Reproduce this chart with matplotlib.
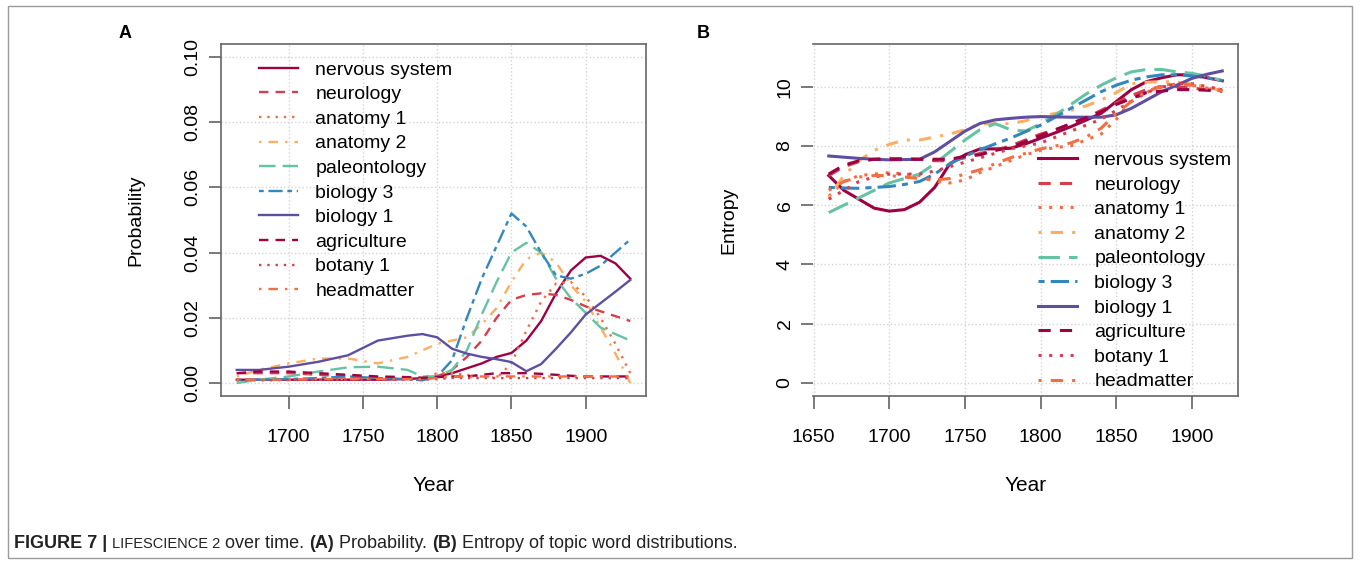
import matplotlib
matplotlib.use("Agg")
import matplotlib.pyplot as plt
from matplotlib.patches import Rectangle

plt.rcParams['font.family'] = ['Liberation Sans', 'DejaVu Sans']

labels = ['nervous system', 'neurology', 'anatomy 1', 'anatomy 2', 'paleontology',
          'biology 3', 'biology 1', 'agriculture', 'botany 1', 'headmatter']
colors = ['#9E0142', '#D53E4F', '#F46D43', '#FDAE61', '#66C2A5',
          '#3288BD', '#5E4FA2', '#9E0142', '#D53E4F', '#F46D43']
# R lty 1..6 then recycled
dashes = [None, (4, 3), (1, 2.5), (1, 3, 4, 3), (7, 3), (2, 2, 6, 2),
          None, (4, 3), (1, 2.5), (1, 3, 4, 3)]

# panel A: probability
years_a = [1665, 1680, 1700, 1720, 1740, 1760, 1780, 1790, 1800, 1810, 1820,
           1830, 1840, 1850, 1860, 1870, 1880, 1890, 1900, 1910, 1920, 1930]
nervous_a = [0.001, 0.001, 0.001, 0.001, 0.001, 0.001, 0.0012, 0.0015, 0.002, 0.003, 0.0045,
             0.006, 0.008, 0.0092, 0.013, 0.019, 0.0275, 0.0345, 0.0385, 0.039, 0.0367, 0.032]
neurology_a = [0.003, 0.003, 0.003, 0.0025, 0.002, 0.0017, 0.0015, 0.0015, 0.002, 0.004, 0.008,
               0.013, 0.02, 0.0255, 0.027, 0.0275, 0.027, 0.0255, 0.0235, 0.022, 0.0205, 0.019]
anatomy1_a = [0.001, 0.001, 0.001, 0.001, 0.0012, 0.0012, 0.0015, 0.0015, 0.003, 0.003, 0.0025,
              0.002, 0.0015, 0.006, 0.016, 0.025, 0.0305, 0.031, 0.0265, 0.020, 0.012, 0.003]
anatomy2_a = [0.002, 0.004, 0.006, 0.0075, 0.0075, 0.006, 0.008, 0.010, 0.012, 0.013, 0.014,
              0.018, 0.023, 0.031, 0.038, 0.040, 0.037, 0.030, 0.025, 0.017, 0.009, 0.0]
paleo_a = [0.0, 0.001, 0.002, 0.0035, 0.0048, 0.005, 0.004, 0.002, 0.002, 0.004, 0.010,
           0.021, 0.031, 0.040, 0.043, 0.040, 0.032, 0.026, 0.0215, 0.017, 0.015, 0.013]
biology3_a = [0.001, 0.001, 0.0012, 0.0015, 0.002, 0.0015, 0.0012, 0.0008, 0.002, 0.007, 0.020,
              0.032, 0.042, 0.052, 0.048, 0.040, 0.033, 0.032, 0.0335, 0.036, 0.040, 0.044]
biology1_a = [0.004, 0.004, 0.005, 0.0065, 0.0085, 0.013, 0.0145, 0.015, 0.014, 0.0105, 0.009,
              0.008, 0.0073, 0.0064, 0.0036, 0.0058, 0.0105, 0.0155, 0.021, 0.0245, 0.028, 0.0316]
agriculture_a = [0.003, 0.0035, 0.0035, 0.003, 0.0025, 0.002, 0.0018, 0.0016, 0.0018, 0.002, 0.002,
                 0.0025, 0.003, 0.003, 0.003, 0.0028, 0.0025, 0.0022, 0.002, 0.002, 0.002, 0.002]
botany1_a = [0.0008, 0.0008, 0.0009, 0.001, 0.001, 0.001, 0.001, 0.001, 0.0012, 0.0015, 0.0015,
             0.0015, 0.0015, 0.0015, 0.0015, 0.0015, 0.0015, 0.0015, 0.0015, 0.0015, 0.0015, 0.0015]
headmatter_a = [0.001, 0.001, 0.001, 0.0012, 0.0012, 0.0012, 0.0012, 0.0012, 0.0015, 0.002, 0.002,
                0.002, 0.002, 0.002, 0.002, 0.002, 0.002, 0.002, 0.002, 0.002, 0.002, 0.002]

# panel B: entropy
years_b = [1660, 1670, 1680, 1690, 1700, 1710, 1720, 1730, 1740, 1750, 1760, 1770, 1780, 1790,
           1800, 1810, 1820, 1830, 1840, 1850, 1860, 1870, 1880, 1890, 1900, 1910, 1920]
nervous_b = [7.0, 6.5, 6.2, 5.9, 5.8, 5.85, 6.1, 6.6, 7.4, 7.7, 7.9, 7.9, 7.92, 8.07,
             8.26, 8.45, 8.65, 8.87, 9.1, 9.5, 9.9, 10.17, 10.3, 10.4, 10.4, 10.3, 10.2]
neurology_b = [7.0, 7.3, 7.47, 7.55, 7.58, 7.57, 7.55, 7.5, 7.5, 7.6, 7.75, 7.85, 8.0, 8.2,
               8.4, 8.55, 8.75, 8.95, 9.2, 9.45, 9.7, 9.9, 10.0, 10.0, 9.95, 9.9, 9.9]
anatomy1_b = [6.3, 6.8, 7.0, 7.05, 7.1, 7.05, 7.0, 6.8, 6.75, 6.85, 7.1, 7.3, 7.5, 7.7,
              7.85, 7.95, 8.0, 8.2, 8.4, 8.9, 9.55, 9.8, 10.05, 10.1, 10.05, 9.95, 9.85]
anatomy2_b = [6.25, 7.0, 7.5, 7.85, 8.05, 8.2, 8.2, 8.3, 8.4, 8.55, 8.75, 8.75, 8.75, 8.85,
              9.0, 9.1, 9.2, 9.35, 9.55, 9.8, 10.1, 10.15, 10.17, 10.15, 10.1, 10.0, 9.85]
paleo_b = [5.75, 6.0, 6.25, 6.5, 6.75, 6.9, 7.05, 7.4, 7.8, 8.2, 8.55, 8.75, 8.55, 8.5,
           8.75, 9.05, 9.4, 9.75, 10.05, 10.3, 10.5, 10.58, 10.58, 10.5, 10.45, 10.35, 10.2]
biology3_b = [6.6, 6.58, 6.57, 6.6, 6.63, 6.7, 6.8, 7.05, 7.4, 7.65, 7.87, 8.07, 8.26, 8.48,
              8.7, 8.98, 9.27, 9.55, 9.83, 10.05, 10.22, 10.33, 10.4, 10.4, 10.36, 10.3, 10.2]
biology1_b = [7.66, 7.62, 7.58, 7.55, 7.53, 7.54, 7.55, 7.8, 8.15, 8.5, 8.76, 8.88, 8.93, 8.97,
              8.99, 8.98, 8.97, 8.97, 8.97, 9.05, 9.27, 9.55, 9.83, 10.05, 10.28, 10.42, 10.53]
agriculture_b = [7.05, 7.35, 7.5, 7.55, 7.55, 7.55, 7.55, 7.55, 7.55, 7.65, 7.7, 7.85, 7.95, 8.15,
                 8.35, 8.55, 8.75, 8.95, 9.15, 9.4, 9.6, 9.8, 9.85, 9.9, 9.9, 9.88, 9.85]
botany1_b = [6.2, 6.5, 6.8, 6.95, 7.05, 7.05, 7.05, 7.15, 7.3, 7.45, 7.6, 7.75, 7.9, 8.0,
             8.1, 8.3, 8.5, 8.7, 8.9, 9.2, 9.5, 9.8, 10.0, 10.1, 10.1, 10.0, 9.9]
headmatter_b = [6.5, 6.8, 6.95, 7.0, 7.0, 6.95, 6.9, 6.85, 6.9, 7.05, 7.2, 7.4, 7.6, 7.75,
                7.9, 8.0, 8.1, 8.3, 8.6, 9.1, 9.5, 9.85, 10.0, 10.1, 10.05, 9.95, 9.85]

series_a = [nervous_a, neurology_a, anatomy1_a, anatomy2_a, paleo_a,
            biology3_a, biology1_a, agriculture_a, botany1_a, headmatter_a]
series_b = [nervous_b, neurology_b, anatomy1_b, anatomy2_b, paleo_b,
            biology3_b, biology1_b, agriculture_b, botany1_b, headmatter_b]

W, H = 1360, 565
fig = plt.figure(figsize=(W / 100, H / 100), dpi=100)

# outer frame of the figure
fig.patches.append(Rectangle((8 / W, 1 - 558 / H), (1352 - 8) / W, (558 - 6) / H,
                             transform=fig.transFigure, fill=False,
                             edgecolor='#9a9a9a', lw=1.0))

axA = fig.add_axes([221 / W, 1 - 396 / H, 425 / W, 352 / H])
axB = fig.add_axes([813 / W, 1 - 396 / H, 425 / W, 352 / H])


def style_axes(ax, xt, yt, xlim, ylim, ytl):
    ax.set_xlim(*xlim)
    ax.set_ylim(*ylim)
    ax.set_xticks(xt)
    ax.set_yticks(yt)
    ax.set_yticklabels(ytl, rotation=90, va='center')
    ax.grid(True, color='#d3d3d3', linestyle=':', lw=1.0)
    ax.set_axisbelow(True)
    for s in ax.spines.values():
        s.set_color('#666666')
        s.set_linewidth(1.2)
    ax.tick_params(axis='both', labelsize=14, color='#555555', length=9, width=1.1)
    ax.tick_params(axis='x', pad=15)
    ax.tick_params(axis='y', pad=5)


def draw(ax, years, series, lw):
    for vals, lab, c, d in zip(series, labels, colors, dashes):
        line, = ax.plot(years, vals, color=c, lw=lw, label=lab)
        if d is not None:
            line.set_dashes(d)


draw(axA, years_a, series_a, 1.7)
style_axes(axA, [1700, 1750, 1800, 1850, 1900], [0, 0.02, 0.04, 0.06, 0.08, 0.10],
           (1654.4, 1940.6), (-0.004, 0.104),
           ['0.00', '0.02', '0.04', '0.06', '0.08', '0.10'])
axA.set_xlabel('Year', fontsize=15)
axA.set_ylabel('Probability', fontsize=14)
axA.xaxis.set_label_coords(0.5, -0.228)
axA.yaxis.set_label_coords(-0.18, 0.5)
axA.legend(loc='upper left', bbox_to_anchor=(0.089, 0.952), frameon=False,
           fontsize=14, borderpad=0, borderaxespad=0, handlelength=2.0,
           handletextpad=0.9, labelspacing=0.36)

draw(axB, years_b, series_b, 2.2)
style_axes(axB, [1650, 1700, 1750, 1800, 1850, 1900], [0, 2, 4, 6, 8, 10],
           (1649.6, 1930.4), (-0.44, 11.44), ['0', '2', '4', '6', '8', '10'])
axB.spines['left'].set_visible(False)
axB.set_xlabel('Year', fontsize=15)
axB.set_ylabel('Entropy', fontsize=14)
axB.xaxis.set_label_coords(0.5, -0.228)
axB.yaxis.set_label_coords(-0.178, 0.5)
axB.legend(loc='upper left', bbox_to_anchor=(0.529, 0.695), frameon=False,
           fontsize=14, borderpad=0, borderaxespad=0, handlelength=2.0,
           handletextpad=0.9, labelspacing=0.36)

fig.text(125 / W, 1 - 33 / H, 'A', fontsize=13, fontweight='bold', ha='center', va='center')
fig.text(703 / W, 1 - 34 / H, 'B', fontsize=13, fontweight='bold', ha='center', va='center')

# caption, built piece by piece
parts = [('FIGURE 7 | ', 'bold', 13), ('LIFESCIENCE 2', 'normal', 10.5),
         (' over time. ', 'normal', 13), ('(A)', 'bold', 13),
         (' Probability. ', 'normal', 13), ('(B)', 'bold', 13),
         (' Entropy of topic word distributions.', 'normal', 13)]
renderer = fig.canvas.get_renderer()
x = 14 / W
for txt, wt, fs in parts:
    t = fig.text(x, 1 - 548 / H, txt, fontsize=fs, fontweight=wt, va='baseline',
                 color='#222222')
    bb = t.get_window_extent(renderer=renderer)
    x += bb.width / W

fig.savefig('out.png', dpi=100)
